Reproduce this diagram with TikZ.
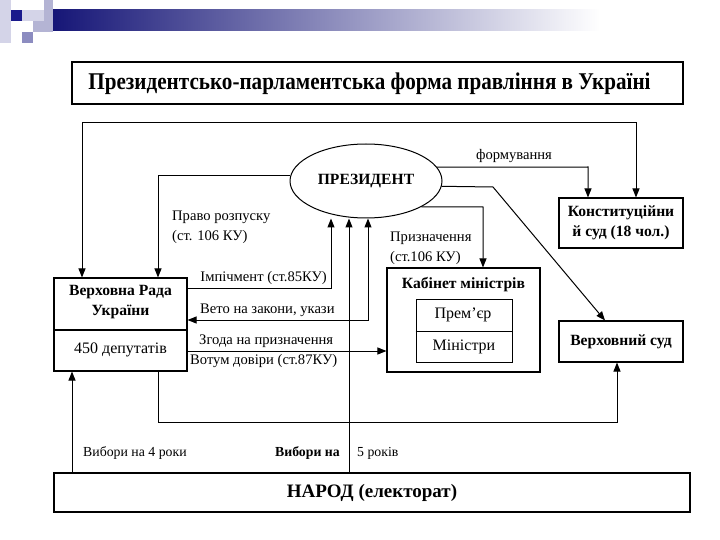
\documentclass[tikz,border=0pt]{standalone}
\usepackage{fontspec}
\setmainfont{Liberation Serif}
\usetikzlibrary{arrows.meta,shapes.geometric,calc}
\definecolor{navy}{HTML}{1A1A8C}
\definecolor{lavA}{HTML}{D4D4E8}
\definecolor{lavB}{HTML}{B4B4D4}
\definecolor{lavC}{HTML}{8C8CC0}
\begin{document}
\begin{tikzpicture}[x=1pt,y=-1pt,
  >={Triangle[length=9pt,width=7pt]},
  box/.style={draw, line width=1.1pt, inner sep=0pt, rectangle, align=center},
  conn/.style={line width=1pt},
  lab/.style={font=\fontsize{14.6}{20}\selectfont, inner sep=0pt, align=left},
  boldlab/.style={font=\bfseries\fontsize{15.6}{20}\selectfont},
  reglab/.style={font=\fontsize{16}{20}\selectfont}
  ]
\useasboundingbox (0,0) rectangle (720,540);
\fill[white] (0,0) rectangle (720,540);
% slide template decoration
\fill[lavA] (0,0) rectangle (11,43);
\fill[lavA] (22,10) rectangle (44,21);
\fill[lavB] (44,0) rectangle (53,21);
\fill[lavB] (33,21) rectangle (53,32);
\fill[lavC] (22,32) rectangle (33,43);
\fill[navy] (11,10) rectangle (22,21);
\shade[left color=navy!85!black, right color=white] (53,10) rectangle (600,31);

% title
\node[box, line width=1.8pt, minimum width=611pt, minimum height=42pt] (title) at (377.5,83) {};
\node[inner sep=0pt] (titletext) at (369.5,84)
      {\scalebox{0.88}[1]{\bfseries\fontsize{24}{28}\selectfont Президентсько-парламентська форма правління в Україні}};

% nodes
\node[draw, ellipse, line width=1pt, minimum width=152pt, minimum height=74pt,
      inner sep=0pt, font=\bfseries\fontsize{15.6}{18}\selectfont] (pres) at (366,181) {ПРЕЗИДЕНТ};
\node[box, minimum width=124pt, minimum height=50pt, boldlab] (ks) at (621,223)
      {Конституційни\\й суд (18 чол.)};
\node[box, minimum width=133pt, minimum height=93pt] (rada) at (120.5,324.5) {};
\coordinate (rdiv) at (0,330);
\draw[line width=1.1pt] (rada.west |- rdiv) -- (rada.east |- rdiv);
\node[boldlab, align=center, inner sep=0pt] (radat) at (120.5,302) {Верховна Рада\\України};
\node[reglab, inner sep=0pt] (radad) at (120.5,350) {450 депутатів};

\node[box, minimum width=153pt, minimum height=104pt] (km) at (463.5,320) {};
\node[boldlab, inner sep=0pt] (kmt) at (463.5,285) {Кабінет міністрів};
\node[box, line width=1pt, minimum width=96pt, minimum height=63pt] (kmin) at (464,330.5) {};
\coordinate (kdiv) at (0,331);
\draw[line width=1pt] (kmin.west |- kdiv) -- (kmin.east |- kdiv);
\node[reglab, inner sep=0pt] (prem) at (463,315) {Прем'єр};
\node[reglab, inner sep=0pt] (min) at (464,347) {Міністри};

\node[box, minimum width=124pt, minimum height=41pt, boldlab] (vs) at (621,341.5) {Верховний суд};

\node[box, line width=1.3pt, minimum width=636pt, minimum height=39pt,
      font=\bfseries\fontsize{19}{22}\selectfont] (narod) at (372,492.5) {НАРОД (електорат)};

% coordinates for bends
\coordinate (t1) at (82,123);
\coordinate (t2) at (636,123);
\coordinate (r1) at (158,176);
\coordinate (f1) at (588,167);
\coordinate (d1) at (493,187);
\coordinate (d2) at (605,0);
\coordinate (p1) at (483,207);
\coordinate (i1) at (331,288);
\coordinate (v1) at (368,320);
\coordinate (e1) at (349,0);
\coordinate (z1) at (0,351);
\coordinate (b1) at (158,422);
\coordinate (b2) at (617,422);
\coordinate (e2) at (72,0);

% connectors
\draw[conn,<->] (rada.north -| t1) -- (t1) -- (t2) -- (t2 |- ks.north);
\draw[conn,->] (pres.west |- r1) -- (r1) -- (r1 |- rada.north);
\draw[conn,->] (pres.11) -- (f1) -- (f1 |- ks.north);
\draw[conn,->] (pres.-4) -- (d1) -- (vs.north -| d2);
\draw[conn,->] (pres.-25) -- (p1) -- (p1 |- km.north);
\draw[conn,->] (rada.east |- i1) -- (i1) -- (i1 |- pres.south);
\draw[conn,<->] (v1 |- pres.south) -- (v1) -- (rada.east |- v1);
\draw[conn,->] (narod.north -| e1) -- (e1 |- pres.south);
\draw[conn,->] (rada.east |- z1) -- (km.west |- z1);
\draw[conn,->] (rada.south -| b1) -- (b1) -- (b2) -- (b2 |- vs.south);
\draw[conn,->] (narod.north -| e2) -- (e2 |- rada.south);

% labels
\node[lab, anchor=west] (lrozp) at (172,227) {Право розпуску\\(ст. 106 КУ)};
\node[lab, anchor=center] (lform) at (514,156) {формування};
\node[lab, anchor=west] (lpryz) at (390,248) {Призначення\\(ст.106 КУ)};
\node[lab, anchor=east] (limp) at (327,278) {Імпічмент (ст.85КУ)};
\node[lab, anchor=west] (lveto) at (200,310) {Вето на закони, укази};
\node[lab, anchor=west] (lzgod) at (199,341) {Згода на призначення};
\node[lab, anchor=west] (lvot) at (190,361) {Вотум довіри (ст.87КУ)};
\node[lab, anchor=west, font=\fontsize{13.8}{15}\selectfont] (lv4) at (83,453) {Вибори на 4 роки};
\node[lab, anchor=east, font=\bfseries\fontsize{13.8}{15}\selectfont] (lv5a) at (340,453) {Вибори на};
\node[lab, anchor=west, font=\fontsize{13.8}{15}\selectfont] (lv5b) at (357,453) {5 років};
\end{tikzpicture}
\end{document}
